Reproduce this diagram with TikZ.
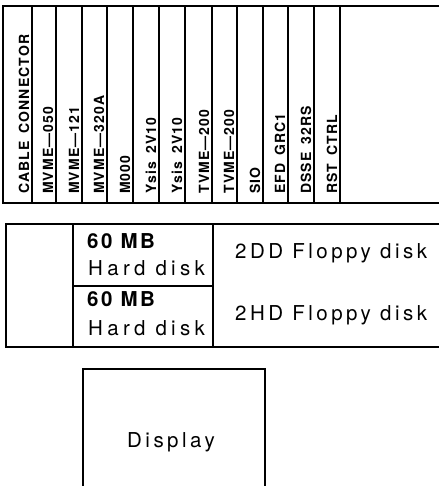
\documentclass[tikz,border=0pt]{standalone}
\usepackage{fontspec}
\newfontfamily\lblfont[LetterSpace=8]{TeX Gyre Heros}
\newfontfamily\hdfont[LetterSpace=21]{TeX Gyre Heros}
\newfontfamily\mbfont[LetterSpace=12]{TeX Gyre Heros}
\newfontfamily\flfont[LetterSpace=17]{TeX Gyre Heros}
\newcommand{\wsp}{~\kern3pt}
\begin{document}
\begin{tikzpicture}[x=1pt,y=-1pt,
  frame/.style={line width=1.6pt, line join=miter},
  card/.style={rotate=90, anchor=base west, inner sep=0pt, font=\lblfont\bfseries\fontsize{14}{15}\selectfont},
  midtxt/.style={anchor=base west, inner sep=0pt}]
\useasboundingbox (0,0) rectangle (439,486);
% top card cage
\draw[frame] (439,6) -- (3,6) -- (3,203) -- (439,203);
\foreach \x in {32,56,82,107,133,159,185,212,237,263,288,314,340}
  \draw[line width=1.2pt] (\x,6) -- (\x,203);
\node[card] (c1) at (29,194) {CABLE\wsp CONNECTOR};
\node[card] (c2) at (53,194) {MVME\textemdash 050};
\node[card] (c3) at (79,194) {MVME\textemdash 121};
\node[card] (c4) at (104,194) {MVME\textemdash 320A};
\node[card] (c5) at (130,194) {M000};
\node[card] (c6) at (156,194) {Ysis\wsp 2V10};
\node[card] (c7) at (182,194) {Ysis\wsp 2V10};
\node[card] (c8) at (209,194) {TVME\textemdash 200};
\node[card] (c9) at (234,194) {TVME\textemdash 200};
\node[card] (c10) at (260,194) {SIO};
\node[card] (c11) at (285,194) {EFD\wsp GRC1};
\node[card] (c12) at (311,194) {DSSE\wsp 32RS};
\node[card] (c13) at (337,194) {RST\wsp CTRL};
% disk unit
\draw[frame] (439,224) -- (6,224) -- (6,347) -- (439,347);
\draw[line width=1.2pt] (73,224) -- (73,347);
\draw[line width=1.2pt] (213,224) -- (213,347);
\draw[line width=1.2pt] (73,286) -- (213,286);
\node[midtxt, font=\mbfont\bfseries\fontsize{20.5}{22}\selectfont] (h1a) at (87,248.5) {60 MB};
\node[midtxt, font=\hdfont\fontsize{20.5}{22}\selectfont] (h1b) at (88,275) {Hard disk};
\node[midtxt, font=\mbfont\bfseries\fontsize{20.5}{22}\selectfont] (h2a) at (87,306) {60 MB};
\node[midtxt, font=\hdfont\fontsize{20.5}{22}\selectfont] (h2b) at (88,335) {Hard disk};
\node[midtxt, font=\flfont\fontsize{20.5}{22}\selectfont] (f1) at (235,258) {2DD Floppy disk};
\node[midtxt, font=\flfont\fontsize{20.5}{22}\selectfont] (f2) at (235,320) {2HD Floppy disk};
% display
\draw[frame] (83,487) -- (83,369) -- (265,369) -- (265,487);
\node[anchor=base, inner sep=0pt, font=\flfont\fontsize{20.5}{22}\selectfont] (disp) at (171,447) {Display};
\end{tikzpicture}
\end{document}
